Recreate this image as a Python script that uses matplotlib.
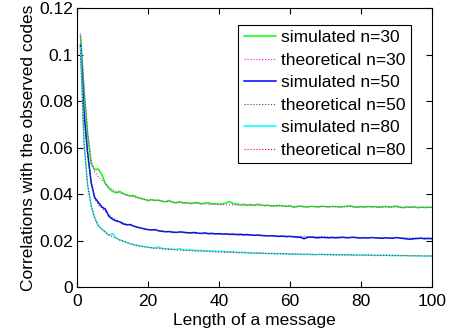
import matplotlib
matplotlib.use('Agg')
import matplotlib.pyplot as plt

plt.rcParams['font.family'] = ['Liberation Sans', 'DejaVu Sans']

# message lengths for the simulated curves
x_sim = list(range(1, 101))

sim_30 = [0.108, 0.085, 0.066, 0.053, 0.0505, 0.0508, 0.0485, 0.0445, 0.0425, 0.0412,
          0.0405, 0.0412, 0.0403, 0.0396, 0.0392, 0.0394, 0.0386, 0.0381, 0.0378, 0.0371,
          0.0376, 0.0373, 0.0374, 0.0369, 0.0367, 0.0373, 0.0365, 0.0362, 0.0368, 0.0361,
          0.0363, 0.0359, 0.0362, 0.0364, 0.0358, 0.0361, 0.0363, 0.0357, 0.0359, 0.0356,
          0.0358, 0.0362, 0.0368, 0.0359, 0.0357, 0.0354, 0.0356, 0.0353, 0.0355, 0.0352,
          0.0357, 0.0353, 0.0351, 0.0352, 0.0348, 0.0350, 0.0351, 0.0349, 0.0347, 0.0350,
          0.0343, 0.0346, 0.0348, 0.0345, 0.0344, 0.0347, 0.0346, 0.0344, 0.0348, 0.0346,
          0.0345, 0.0347, 0.0346, 0.0344, 0.0346, 0.0348, 0.0350, 0.0345, 0.0343, 0.0346,
          0.0344, 0.0347, 0.0345, 0.0346, 0.0343, 0.0345, 0.0347, 0.0344, 0.0346, 0.0348,
          0.0344, 0.0341, 0.0345, 0.0343, 0.0346, 0.0341, 0.0344, 0.0342, 0.0343, 0.0343]

sim_50 = [0.104, 0.075, 0.058, 0.045, 0.0385, 0.0365, 0.0345, 0.0335, 0.0305, 0.0292,
          0.0285, 0.0281, 0.0272, 0.0268, 0.0269, 0.0262, 0.0258, 0.0254, 0.0250, 0.0247,
          0.0246, 0.0247, 0.0242, 0.0240, 0.0238, 0.0239, 0.0236, 0.0235, 0.0237, 0.0236,
          0.0234, 0.0233, 0.0235, 0.0232, 0.0231, 0.0233, 0.0230, 0.0231, 0.0229, 0.0230,
          0.0228, 0.0229, 0.0227, 0.0228, 0.0226, 0.0227, 0.0225, 0.0226, 0.0224, 0.0223,
          0.0224, 0.0222, 0.0221, 0.0220, 0.0221, 0.0219, 0.0218, 0.0219, 0.0217, 0.0218,
          0.0216, 0.0215, 0.0214, 0.0208, 0.0214, 0.0215, 0.0213, 0.0212, 0.0214, 0.0213,
          0.0212, 0.0213, 0.0212, 0.0213, 0.0214, 0.0212, 0.0213, 0.0214, 0.0212, 0.0211,
          0.0212, 0.0211, 0.0213, 0.0212, 0.0211, 0.0210, 0.0212, 0.0211, 0.0210, 0.0213,
          0.0211, 0.0209, 0.0207, 0.0206, 0.0208, 0.0209, 0.0210, 0.0208, 0.0209, 0.0208]

sim_80 = [0.103, 0.062, 0.044, 0.035, 0.030, 0.0265, 0.025, 0.0238, 0.0222, 0.0230,
          0.0213, 0.0203, 0.0198, 0.0192, 0.0186, 0.0182, 0.0178, 0.0176, 0.0174, 0.0172,
          0.0169, 0.0167, 0.0173, 0.0166, 0.0165, 0.0164, 0.0163, 0.0162, 0.0165, 0.0160,
          0.0159, 0.0160, 0.0158, 0.0157, 0.0158, 0.0156, 0.0155, 0.0156, 0.0154, 0.0153,
          0.0154, 0.0152, 0.0151, 0.0152, 0.0150, 0.0149, 0.0150, 0.0148, 0.0147, 0.0146,
          0.0147, 0.0146, 0.0145, 0.0144, 0.0145, 0.0143, 0.0144, 0.0143, 0.0142, 0.0142,
          0.0141, 0.0142, 0.0141, 0.0140, 0.0141, 0.0140, 0.0139, 0.0140, 0.0141, 0.0139,
          0.0140, 0.0139, 0.0138, 0.0139, 0.0138, 0.0139, 0.0138, 0.0137, 0.0138, 0.0138,
          0.0137, 0.0138, 0.0137, 0.0136, 0.0137, 0.0136, 0.0137, 0.0136, 0.0135, 0.0136,
          0.0135, 0.0136, 0.0135, 0.0134, 0.0135, 0.0134, 0.0134, 0.0133, 0.0134, 0.0133]

# theoretical curves
x_theo = [1, 2, 3, 4, 5, 6, 7, 8, 9, 10, 12, 14, 16, 18, 20, 25, 30, 35, 40, 45, 50, 60, 70, 80, 90, 100]
theo_30 = [0.109, 0.086, 0.067, 0.055, 0.0495, 0.0475, 0.046, 0.0445, 0.043, 0.042, 0.0405, 0.0395, 0.0388,
           0.0381, 0.0376, 0.0368, 0.0362, 0.0358, 0.0355, 0.0353, 0.0351, 0.0348, 0.0346, 0.0345, 0.0344, 0.0343]
theo_50 = [0.104, 0.074, 0.057, 0.045, 0.038, 0.0355, 0.034, 0.0325, 0.031, 0.0298, 0.0282, 0.0270, 0.0261,
           0.0254, 0.0248, 0.0239, 0.0234, 0.0230, 0.0227, 0.0224, 0.0222, 0.0219, 0.0216, 0.0214, 0.0212, 0.0211]
theo_80 = [0.102, 0.062, 0.044, 0.035, 0.0295, 0.0265, 0.0248, 0.0234, 0.0224, 0.0216, 0.0203, 0.0192, 0.0183,
           0.0176, 0.0171, 0.0163, 0.0158, 0.0154, 0.0151, 0.0148, 0.0146, 0.0143, 0.0140, 0.0138, 0.0136, 0.0134]

x_ticks = [0, 20, 40, 60, 80, 100]
y_ticks = [0, 0.02, 0.04, 0.06, 0.08, 0.1, 0.12]
y_tick_labels = ['0', '0.02', '0.04', '0.06', '0.08', '0.1', '0.12']

fig = plt.figure(figsize=(4.72, 3.35), dpi=100)
ax = fig.add_axes([0.163, 0.143, 0.752, 0.833])

ax.plot(x_sim, sim_30, color=(0, 1, 0), lw=1.1, label='simulated n=30')
ax.plot(x_theo, theo_30, color=(1, 0, 1), lw=0.8, ls=':', label='theoretical n=30')
ax.plot(x_sim, sim_50, color=(0, 0, 1), lw=1.1, label='simulated n=50')
ax.plot(x_theo, theo_50, color='0.3', lw=0.8, ls=':', label='theoretical n=50')
ax.plot(x_sim, sim_80, color=(0, 1, 1), lw=1.1, label='simulated n=80')
ax.plot(x_theo, theo_80, color=(1, 0, 0), lw=0.8, ls=':', label='theoretical n=80')

ax.set_xlim(0, 100)
ax.set_ylim(0, 0.12)
ax.set_xticks(x_ticks)
ax.set_xticklabels([str(t) for t in x_ticks])
ax.set_yticks(y_ticks)
ax.set_yticklabels(y_tick_labels)
ax.tick_params(direction='in', top=True, right=True, labelsize=12.5, length=4, pad=3)
ax.tick_params(axis='x', pad=5)
for s in ax.spines.values():
    s.set_linewidth(0.8)

ax.set_xlabel('Length of a message', fontsize=12.5, labelpad=2.5)
ax.set_ylabel('Correlations with the observed codes', fontsize=12.5, labelpad=2)

leg = ax.legend(loc='upper right', bbox_to_anchor=(0.94, 0.939), fontsize=12.5,
                frameon=True, fancybox=False, framealpha=1, edgecolor='black',
                borderpad=0.3, labelspacing=0.42, handlelength=1.85, handletextpad=0.3,
                borderaxespad=0)
leg.get_frame().set_linewidth(0.8)

fig.savefig('out.png', dpi=100)
